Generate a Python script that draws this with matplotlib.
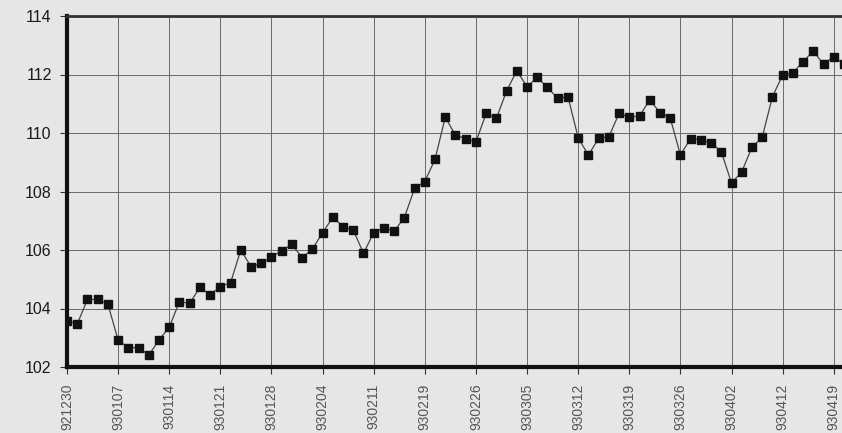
import matplotlib
matplotlib.use("Agg")
import matplotlib.pyplot as plt
import numpy as np

# daily values
values = [103.58, 103.47, 104.31, 104.31, 104.15,
          102.92, 102.66, 102.66, 102.41, 102.92,
          103.36, 104.23, 104.18, 104.72, 104.47,
          104.75, 104.88, 106.00, 105.43, 105.54,
          105.75, 105.98, 106.19, 105.74, 106.03,
          106.59, 107.12, 106.80, 106.68, 105.89,
          106.59, 106.76, 106.64, 107.11, 108.11,
          108.34, 109.10, 110.54, 109.92, 109.81,
          109.69, 110.67, 110.50, 111.44, 112.13,
          111.58, 111.90, 111.56, 111.18, 111.24,
          109.84, 109.24, 109.82, 109.87, 110.67,
          110.54, 110.58, 111.13, 110.70, 110.52,
          109.25, 109.81, 109.76, 109.67, 109.36,
          108.29, 108.67, 109.52, 109.85, 111.24,
          111.98, 112.06, 112.44, 112.80, 112.35,
          112.61, 112.36]

tick_labels = ["921230", "930107", "930114", "930121", "930128", "930204",
               "930211", "930219", "930226", "930305", "930312", "930319",
               "930326", "930402", "930412", "930419"]
tick_pos = list(range(0, 5 * len(tick_labels), 5))

bg = "#e6e6e6"
fig = plt.figure(figsize=(8.42, 4.33), dpi=100, facecolor=bg)
ax = fig.add_axes([67 / 842, 66 / 433, 778 / 842, 351 / 433])
ax.set_facecolor(bg)

x = np.arange(len(values))
ax.plot(x, values, color="#444444", lw=0.9, marker="s", ms=5.5,
        mfc="#111111", mec="#111111", clip_on=True, zorder=3)

ax.set_xlim(0, 76.1)
ax.set_ylim(102, 114)
ax.set_yticks(range(102, 115, 2))
ax.set_xticks(tick_pos)
ax.set_xticklabels(tick_labels, rotation=90, fontsize=10, color="#555555",
                   family="Liberation Sans")
for lab in ax.get_yticklabels():
    lab.set_fontsize(11.5)
    lab.set_family("Liberation Sans")
    lab.set_color("#1a1a1a")

ax.grid(True, color="#6a6a6a", lw=0.7)
ax.tick_params(axis="both", length=5, width=0.8, color="#333333")
ax.tick_params(axis="y", pad=6)
ax.tick_params(axis="x", pad=7)

ax.spines["left"].set_linewidth(3)
ax.spines["left"].set_color("#111111")
ax.spines["bottom"].set_linewidth(3)
ax.spines["bottom"].set_color("#111111")
ax.spines["top"].set_linewidth(2)
ax.spines["top"].set_color("#333333")
ax.spines["right"].set_visible(False)

fig.savefig("out.png", dpi=100, facecolor=bg)
